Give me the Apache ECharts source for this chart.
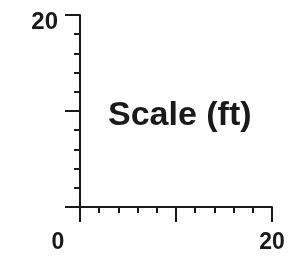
<!DOCTYPE html>
<html>
<head>
<meta charset="utf-8">
<script src="https://cdn.jsdelivr.net/npm/echarts@6/dist/echarts.min.js"></script>
<style>
  html, body { margin: 0; padding: 0; background: #fff; }
  #main { width: 295px; height: 265px; }
</style>
</head>
<body>
<div id="main"></div>
<script>
// scale bar, both axes in feet
var xRange = [0, 20];
var yRange = [0, 20];
var majorStep = 10;
var xLabels = [0, 20];
var yLabels = [20];
var caption = 'Scale (ft)';

var chart = echarts.init(document.getElementById('main'));
var ink = '#1a1a1a';
var font = 'Liberation Sans, Arial, sans-serif';

var option = {
    animation: false,
    title: {
        text: caption,
        left: 108,
        top: 99,
        padding: 0,
        textStyle: { fontSize: 34, fontWeight: 'bold', color: ink, fontFamily: font }
    },
    grid: { left: 80, right: 23, top: 15, bottom: 58 },
    xAxis: {
        type: 'value',
        min: xRange[0],
        max: xRange[1],
        interval: majorStep,
        splitLine: { show: false },
        axisLine: { show: true, lineStyle: { color: ink, width: 2 } },
        axisTick: { show: true, inside: false, length: 15, lineStyle: { color: ink, width: 2 } },
        minorTick: { show: true, splitNumber: 5, length: 6, lineStyle: { color: ink, width: 2 } },
        axisLabel: {
            margin: 24,
            color: ink,
            fontSize: 23,
            fontWeight: 'bold',
            fontFamily: font,
            formatter: function (v) {
                if (xLabels.indexOf(v) < 0) return '';
                return v === xRange[0] ? '{lo|' + v + '}' : '{hi|' + v + '}';
            },
            rich: {
                lo: { fontSize: 23, fontWeight: 'bold', fontFamily: font, color: ink, padding: [0, 44, 0, 0] },
                hi: { fontSize: 23, fontWeight: 'bold', fontFamily: font, color: ink }
            }
        }
    },
    yAxis: {
        type: 'value',
        min: yRange[0],
        max: yRange[1],
        interval: majorStep,
        splitLine: { show: false },
        axisLine: { show: true, lineStyle: { color: ink, width: 2 } },
        axisTick: { show: true, inside: false, length: 15, lineStyle: { color: ink, width: 2 } },
        minorTick: { show: true, splitNumber: 5, length: 6, lineStyle: { color: ink, width: 2 } },
        axisLabel: {
            margin: 22,
            color: ink,
            fontFamily: font,
            formatter: function (v) {
                return yLabels.indexOf(v) < 0 ? '' : '{t|' + v + '}';
            },
            rich: {
                t: { fontSize: 24, fontWeight: 'bold', fontFamily: font, color: ink, padding: [15, 0, 0, 0] }
            }
        }
    },
    series: []
};

chart.setOption(option);
</script>
</body>
</html>
